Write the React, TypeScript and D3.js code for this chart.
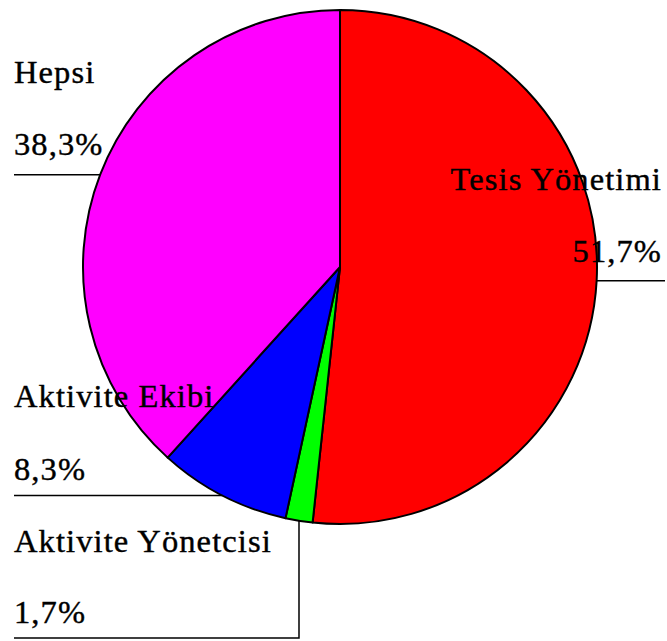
import { useEffect, useRef } from "react";
import * as d3 from "d3";

const kategoriler = ["Tesis Yönetimi", "Aktivite Yönetcisi", "Aktivite Ekibi", "Hepsi"];
const yuzdeler = [51.7, 1.7, 8.3, 38.3];
const renkler = ["#FF0000", "#00FF00", "#0000FF", "#FF00FF"];

const ANCHO = 667;
const ALTO = 641;

// label placement per slice: text anchor + baselines, and where the leader goes
const yerlesim = [
  { x: 662, anchor: "end", y1: 190, y2: 262, hedefX: 665, dikey: null as number | null },
  { x: 14, anchor: "start", y1: 552, y2: 623, hedefX: 14, dikey: 638 },
  { x: 14, anchor: "start", y1: 407, y2: 480, hedefX: 14, dikey: null },
  { x: 14, anchor: "start", y1: 83, y2: 155, hedefX: 14, dikey: null },
];

export default function App() {
  const svgRef = useRef<SVGSVGElement>(null);

  useEffect(() => {
    if (!svgRef.current) return;
    const svg = d3.select(svgRef.current);
    svg.selectAll("*").remove();

    const cx = 340;
    const cy = 267;
    const r = 257;

    const datos = kategoriler.map((k, i) => ({ etiqueta: k, valor: yuzdeler[i], color: renkler[i] }));
    const pie = d3.pie<(typeof datos)[number]>().value((d) => d.valor).sort(null);
    const arcos = pie(datos);
    const arc = d3.arc<d3.PieArcDatum<(typeof datos)[number]>>().innerRadius(0).outerRadius(r);

    const g = svg.append("g").attr("transform", `translate(${cx},${cy})`);
    g.selectAll("path")
      .data(arcos)
      .enter()
      .append("path")
      .attr("d", arc)
      .attr("fill", (d) => d.data.color)
      .attr("stroke", "#000")
      .attr("stroke-width", 2)
      .attr("stroke-linejoin", "round");

    const fmt = (v: number) => d3.format(".1f")(v).replace(".", ",") + "%";

    arcos.forEach((a, i) => {
      const lay = yerlesim[i];
      const medio = (a.startAngle + a.endAngle) / 2;
      const px = cx + r * Math.sin(medio);
      const py = cy - r * Math.cos(medio);

      // leader line from the slice edge
      if (lay.dikey !== null) {
        svg.append("polyline")
          .attr("points", `${px},${py} ${px},${lay.dikey} ${lay.hedefX},${lay.dikey}`)
          .attr("fill", "none")
          .attr("stroke", "#000")
          .attr("stroke-width", 1.5);
      } else {
        svg.append("line")
          .attr("x1", px)
          .attr("y1", py)
          .attr("x2", lay.hedefX)
          .attr("y2", py)
          .attr("stroke", "#000")
          .attr("stroke-width", 1.5);
      }

      const t = svg.append("g")
        .style("font-family", '"Liberation Serif", Tinos, "Times New Roman", serif')
        .style("font-size", "32.5px")
        .style("letter-spacing", "1.1px")
        .attr("fill", "#000")
        .attr("stroke", "#000")
        .attr("stroke-width", 0.4)
        .attr("text-anchor", lay.anchor);
      t.append("text").attr("x", lay.x).attr("y", lay.y1).text(a.data.etiqueta);
      t.append("text").attr("x", lay.x).attr("y", lay.y2).text(fmt(a.data.valor));
    });
  }, []);

  return (
    <svg
      ref={svgRef}
      width={ANCHO}
      height={ALTO}
      viewBox={`0 0 ${ANCHO} ${ALTO}`}
      style={{ position: "fixed", left: 0, top: 0, background: "#fff" }}
    />
  );
}
